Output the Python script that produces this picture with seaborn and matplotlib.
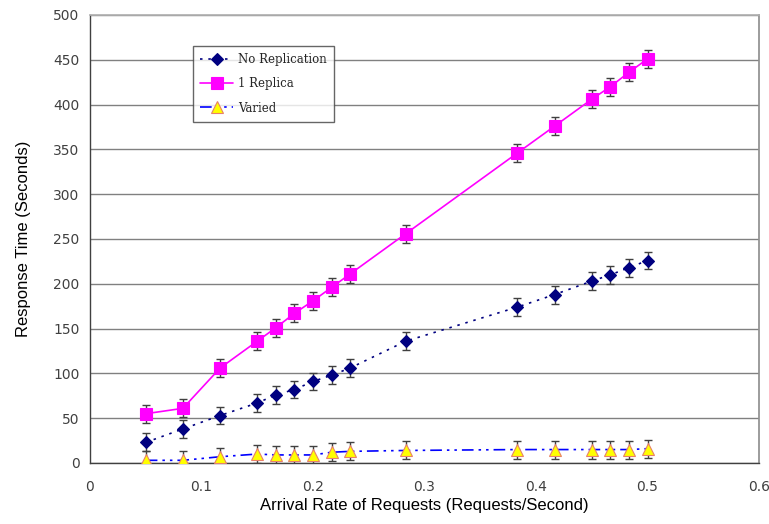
import matplotlib
matplotlib.use("Agg")
import matplotlib.pyplot as plt
import seaborn as sns
import pandas as pd

# Arrival rates (requests/second)
arrival_rate = [0.05, 0.0833, 0.1167, 0.15, 0.1667, 0.1833, 0.2, 0.2167,
                0.2333, 0.2833, 0.3833, 0.4167, 0.45, 0.4667, 0.4833, 0.5]

# Mean response times (seconds)
no_replication = [23, 38, 53, 67, 76, 82, 91, 98, 106, 136, 174, 188, 203, 210, 218, 226]
one_replica = [55, 61, 106, 136, 151, 167, 181, 196, 211, 256, 346, 376, 406, 420, 436, 451]
varied = [3, 3, 7, 10, 9, 9, 9, 12, 13, 14, 15, 15, 15, 15, 15, 16]

# Half-width of the error bars (seconds)
error = [10] * len(arrival_rate)

series_names = ["No Replication", "1 Replica", "Varied"]
x_tick_labels = ["0", "0.1", "0.2", "0.3", "0.4", "0.5", "0.6"]

df = pd.DataFrame({
    "rate": arrival_rate * 3,
    "time": no_replication + one_replica + varied,
    "err": error * 3,
    "series": sum([[n] * len(arrival_rate) for n in series_names], []),
})

sns.set_theme(style="white")
plt.rcParams["font.family"] = ["DejaVu Sans"]

fig = plt.figure(figsize=(7.69, 5.24), dpi=100)
ax = fig.add_axes([90 / 769, 1 - 463 / 524, 669 / 769, 448 / 524])

styles = {
    "No Replication": dict(color="#000080", marker="D", ms=6, mfc="#000080",
                           mec="#000080", dashes=(1.5, 3.5)),
    "1 Replica": dict(color="#FF00FF", marker="s", ms=8, mfc="#FF00FF",
                      mec="#FF00FF", dashes=()),
    "Varied": dict(color="#0000FF", marker="^", ms=8, mfc="#FFFF00",
                   mec="#E8806A", dashes=(7, 3, 1.5, 3, 1.5, 3)),
}

for name in series_names:
    sub = df[df["series"] == name]
    st = styles[name]
    ax.errorbar(sub["rate"], sub["time"], yerr=sub["err"], fmt="none",
                ecolor="#404040", elinewidth=1, capsize=3, capthick=1, zorder=3)
    sns.lineplot(data=sub, x="rate", y="time", ax=ax, color=st["color"],
                 lw=1.2, marker=st["marker"], markersize=st["ms"],
                 markerfacecolor=st["mfc"], markeredgecolor=st["mec"],
                 markeredgewidth=0.8, label=name, errorbar=None, zorder=4)
    line = ax.get_lines()[-1]
    if st["dashes"]:
        line.set_dashes(st["dashes"])

ax.set_xlim(0, 0.6)
ax.set_ylim(0, 500)
ax.set_xticks([0, 0.1, 0.2, 0.3, 0.4, 0.5, 0.6])
ax.set_xticklabels(x_tick_labels)
ax.set_yticks(range(0, 501, 50))

ax.yaxis.grid(True, color="#808080", lw=1)
ax.xaxis.grid(False)
ax.set_axisbelow(True)

for side in ["left", "bottom"]:
    ax.spines[side].set_color("#404040")
    ax.spines[side].set_linewidth(1)
ax.spines["top"].set_color("#B0B0B0")
ax.spines["right"].set_color("#909090")

ax.tick_params(axis="both", direction="inout", length=7, width=1,
               color="#404040", labelsize=10, labelcolor="#404040")
ax.tick_params(axis="x", direction="out", length=4, pad=8)
ax.tick_params(axis="y", pad=4)

ax.set_xlabel("Arrival Rate of Requests (Requests/Second)",
              fontfamily="Liberation Sans", fontsize=12, color="black", labelpad=3)
ax.set_ylabel("Response Time (Seconds)",
              fontfamily="Liberation Sans", fontsize=12, color="black", labelpad=16)

leg = ax.legend(loc="upper left", bbox_to_anchor=(103 / 669, 1 - 31 / 448),
                borderaxespad=0, frameon=True, fancybox=False,
                edgecolor="#404040",
                prop={"family": "DejaVu Serif", "size": 8.5},
                handlelength=2.8, borderpad=0.6, labelspacing=0.95,
                handletextpad=0.4)
leg.get_frame().set_linewidth(1)

fig.savefig("out.png", dpi=100, facecolor="white")
